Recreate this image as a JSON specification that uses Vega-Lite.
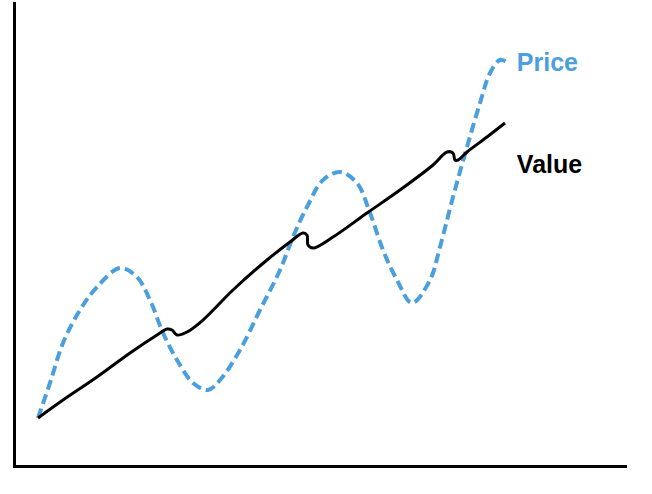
{
  "$schema": "https://vega.github.io/schema/vega-lite/v6.json",
  "width": 611,
  "height": 463,
  "autosize": {"type": "none"},
  "padding": {"left": 14, "top": 3, "right": 27, "bottom": 28},
  "background": "white",
  "config": {
    "view": {"stroke": null},
    "axis": {"grid": false, "ticks": false, "labels": false, "title": null, "domainColor": "black", "domainWidth": 3, "domainCap": "square"}
  },
  "datasets": {
    "lines": [
      {"series": "Price", "x": 3.93, "y": 10.37},
      {"series": "Price", "x": 5.89, "y": 17.93},
      {"series": "Price", "x": 8.02, "y": 26.57},
      {"series": "Price", "x": 10.8, "y": 33.69},
      {"series": "Price", "x": 13.58, "y": 38.66},
      {"series": "Price", "x": 17.35, "y": 42.76},
      {"series": "Price", "x": 20.13, "y": 40.82},
      {"series": "Price", "x": 22.26, "y": 35.85},
      {"series": "Price", "x": 24.39, "y": 28.73},
      {"series": "Price", "x": 26.68, "y": 22.89},
      {"series": "Price", "x": 29.3, "y": 17.93},
      {"series": "Price", "x": 31.75, "y": 16.41},
      {"series": "Price", "x": 33.72, "y": 18.57},
      {"series": "Price", "x": 36.99, "y": 25.05},
      {"series": "Price", "x": 40.26, "y": 33.69},
      {"series": "Price", "x": 43.54, "y": 42.33},
      {"series": "Price", "x": 45.66, "y": 49.46},
      {"series": "Price", "x": 47.95, "y": 55.94},
      {"series": "Price", "x": 50.57, "y": 61.77},
      {"series": "Price", "x": 53.36, "y": 63.5},
      {"series": "Price", "x": 56.14, "y": 61.12},
      {"series": "Price", "x": 58.27, "y": 54.64},
      {"series": "Price", "x": 60.39, "y": 46.65},
      {"series": "Price", "x": 62.68, "y": 40.17},
      {"series": "Price", "x": 65.14, "y": 35.21},
      {"series": "Price", "x": 68.09, "y": 40.17},
      {"series": "Price", "x": 69.72, "y": 47.3},
      {"series": "Price", "x": 71.85, "y": 58.1},
      {"series": "Price", "x": 74.14, "y": 68.9},
      {"series": "Price", "x": 76.27, "y": 78.4},
      {"series": "Price", "x": 77.91, "y": 84.88},
      {"series": "Price", "x": 79.54, "y": 87.69},
      {"series": "Price", "x": 80.69, "y": 87.26},
      {"series": "Value", "x": 3.93, "y": 10.37},
      {"series": "Value", "x": 8.02, "y": 14.25},
      {"series": "Value", "x": 13.58, "y": 19.22},
      {"series": "Value", "x": 18.99, "y": 24.41},
      {"series": "Value", "x": 23.4, "y": 28.29},
      {"series": "Value", "x": 25.04, "y": 29.59},
      {"series": "Value", "x": 25.86, "y": 29.37},
      {"series": "Value", "x": 26.68, "y": 28.29},
      {"series": "Value", "x": 28.31, "y": 28.94},
      {"series": "Value", "x": 30.93, "y": 31.53},
      {"series": "Value", "x": 35.84, "y": 38.01},
      {"series": "Value", "x": 41.41, "y": 44.49},
      {"series": "Value", "x": 45.17, "y": 48.38},
      {"series": "Value", "x": 47.3, "y": 50.32},
      {"series": "Value", "x": 47.95, "y": 49.89},
      {"series": "Value", "x": 48.12, "y": 47.73},
      {"series": "Value", "x": 48.94, "y": 47.08},
      {"series": "Value", "x": 52.21, "y": 49.46},
      {"series": "Value", "x": 57.77, "y": 54.64},
      {"series": "Value", "x": 63.17, "y": 59.61},
      {"series": "Value", "x": 68.58, "y": 65.01},
      {"series": "Value", "x": 70.87, "y": 67.82},
      {"series": "Value", "x": 71.85, "y": 67.6},
      {"series": "Value", "x": 72.18, "y": 66.09},
      {"series": "Value", "x": 72.67, "y": 66.09},
      {"series": "Value", "x": 74.14, "y": 67.82},
      {"series": "Value", "x": 77.41, "y": 71.06},
      {"series": "Value", "x": 80.36, "y": 74.08}
    ],
    "labels": [
      {"series": "Price", "x": 82.3, "y": 85.4},
      {"series": "Value", "x": 82.3, "y": 63.3}
    ]
  },
  "encoding": {
    "x": {"field": "x", "type": "quantitative", "scale": {"domain": [0, 100], "nice": false, "zero": false}, "axis": {"orient": "bottom"}},
    "y": {"field": "y", "type": "quantitative", "scale": {"domain": [0, 100], "nice": false, "zero": false}, "axis": {"orient": "left"}},
    "color": {"field": "series", "type": "nominal", "scale": {"domain": ["Price", "Value"], "range": ["#4a9fdc", "#000000"]}, "legend": null}
  },
  "layer": [
    {
      "data": {"name": "lines"},
      "transform": [{"filter": "datum.series === 'Price'"}],
      "mark": {"type": "line", "interpolate": "catmull-rom", "strokeWidth": 4, "strokeDash": [10, 5]}
    },
    {
      "data": {"name": "lines"},
      "transform": [{"filter": "datum.series === 'Value'"}],
      "mark": {"type": "line", "interpolate": "catmull-rom", "strokeWidth": 3}
    },
    {
      "data": {"name": "labels"},
      "mark": {"type": "text", "align": "left", "baseline": "alphabetic", "font": "Liberation Sans", "fontWeight": "bold", "fontSize": 25},
      "encoding": {"text": {"field": "series"}}
    }
  ]
}
